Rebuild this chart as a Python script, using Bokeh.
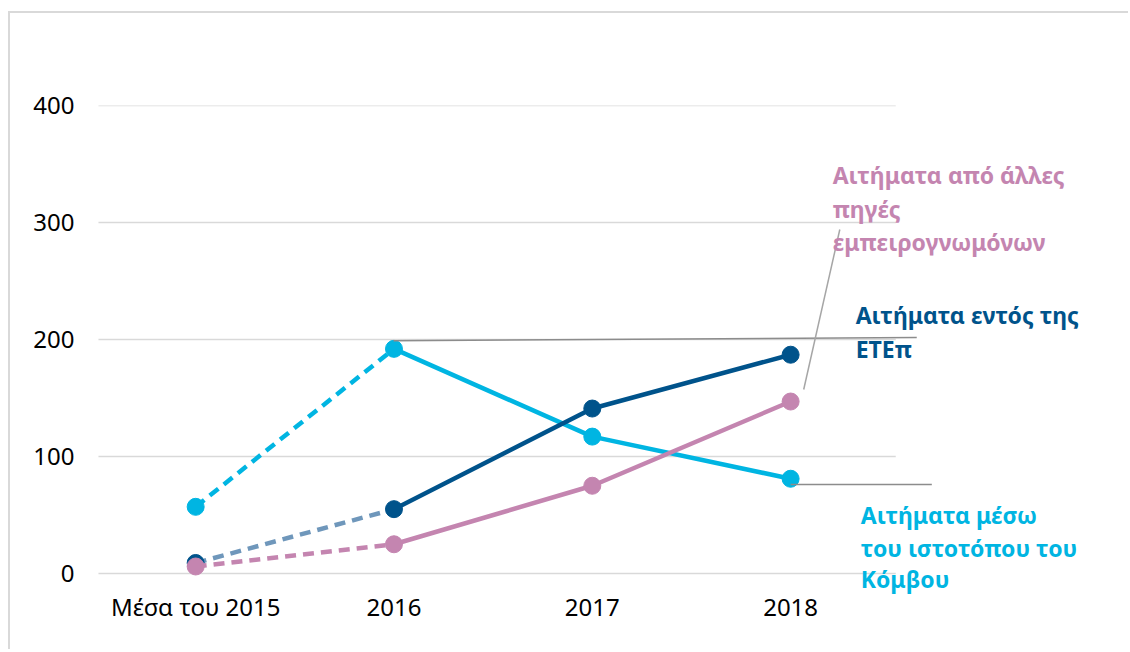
from bokeh.plotting import figure
from bokeh.models import FixedTicker, Label, Arrow, Range1d
from bokeh.embed import file_html
from bokeh.resources import INLINE

categories = ["Μέσα του 2015", "2016", "2017", "2018"]
web_values = [57, 192, 117, 81]      # Αιτήματα μέσω του ιστοτόπου του Κόμβου
eib_values = [9, 55, 141, 187]       # Αιτήματα εντός της ΕΤΕπ
other_values = [6, 25, 75, 147]      # Αιτήματα από άλλες πηγές εμπειρογνωμόνων
y_ticks = [0, 100, 200, 300, 400]

web_label = ["Αιτήματα μέσω", "του ιστοτόπου του", "Κόμβου"]
eib_label = ["Αιτήματα εντός της", "ΕΤΕπ"]
other_label = ["Αιτήματα από άλλες", "πηγές", "εμπειρογνωμόνων"]

FONT = "Noto Sans"
CYAN = "#00b5e2"
DARK = "#00538b"
DARK_DASH = "#6f97bb"
PINK = "#c485b0"
GRID = "#d9d9d9"

xs = list(range(len(categories)))

p = figure(width=1120, height=638, output_backend="svg", toolbar_location=None,
           x_range=Range1d(-0.5, 4.613), y_range=Range1d(-20.5, 400),
           min_border_left=86, min_border_right=20, min_border_top=92,
           min_border_bottom=54)
p.styles = {"border-left": f"2px solid {GRID}", "border-top": f"2px solid {GRID}",
            "margin-left": "8px", "margin-top": "11px"}
p.outline_line_color = None
p.background_fill_color = "white"
p.border_fill_color = "white"

# axes
p.xaxis.ticker = FixedTicker(ticks=xs)
p.xaxis.major_label_overrides = {i: c for i, c in zip(xs, categories)}
p.yaxis.ticker = FixedTicker(ticks=y_ticks)
for ax in (p.xaxis[0], p.yaxis[0]):
    ax.axis_line_color = None
    ax.major_tick_line_color = None
    ax.minor_tick_line_color = None
    ax.major_tick_out = 0
    ax.major_tick_in = 0
    ax.major_label_text_font = FONT
    ax.major_label_text_font_size = "24px"
    ax.major_label_text_color = "#000000"
p.yaxis.major_label_standoff = 22
p.xaxis.major_label_standoff = -8
p.xgrid.grid_line_color = None
p.ygrid.grid_line_color = None

# horizontal gridlines limited to the category area
p.segment(x0=[-0.49] * len(y_ticks), x1=[3.53] * len(y_ticks), y0=y_ticks, y1=y_ticks,
          line_color=GRID, line_width=1.5)

series = [
    (web_values, CYAN, CYAN),
    (eib_values, DARK, DARK_DASH),
    (other_values, PINK, PINK),
]
for vals, col, dcol in series:
    p.line(xs[:2], vals[:2], line_color=dcol, line_width=4.5, line_dash="11 7")
    p.line(xs[1:], vals[1:], line_color=col, line_width=4.5)
    p.scatter(xs, vals, size=17, fill_color=col, line_color=col)

# leader lines
leaders = [
    ((0.998, 199), (3.636, 201.7), "#8c8c8c"),
    ((3.248, 294), (3.066, 157.3), "#a6a6a6"),
    ((3.0, 76.1), (3.712, 76.1), "#8c8c8c"),
]
for (x0, y0), (x1, y1), c in leaders:
    p.add_layout(Arrow(x_start=x0, y_start=y0, x_end=x1, y_end=y1, end=None,
                       line_color=c, line_width=1.5))

def add_label(lines, x, ys, color):
    for t, y in zip(lines, ys):
        p.add_layout(Label(x=x, y=y, text=t, text_font=FONT, text_font_size="23px",
                           text_font_style="bold", text_color=color,
                           text_baseline="middle", text_align="left"))

add_label(other_label, 3.212, [341.0, 311.9, 283.7], PINK)
add_label(eib_label, 3.328, [221.3, 192.3], DARK)
add_label(web_label, 3.354, [49.6, 22.2, -4.3], CYAN)

open("out.html", "w").write(file_html(p, INLINE))
